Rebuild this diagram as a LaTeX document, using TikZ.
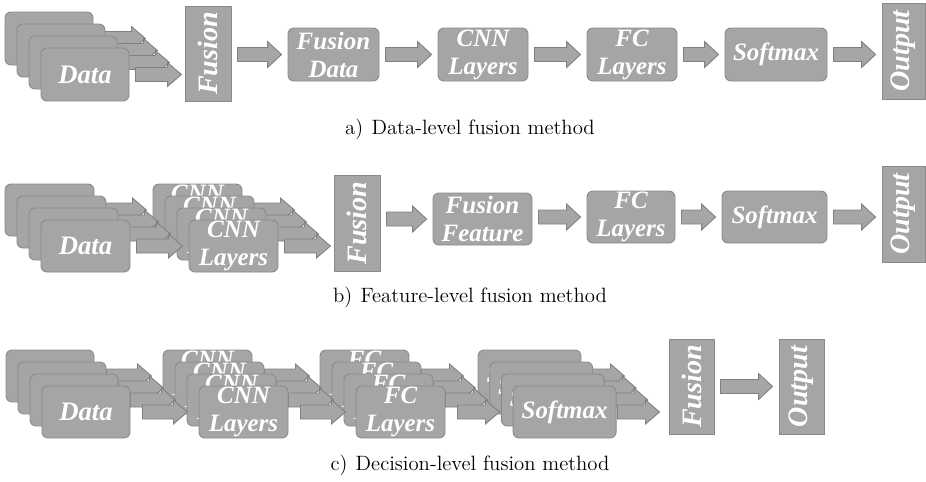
\documentclass[tikz,border=0pt]{standalone}
\usepackage{fontspec}
\newfontfamily\tnr{Liberation Serif}
\usetikzlibrary{calc}

\definecolor{boxfill}{HTML}{A5A5A5}
\definecolor{boxline}{HTML}{8A8A8A}
\definecolor{arrowfill}{HTML}{A6A6A6}
\definecolor{arrowline}{HTML}{808080}

% one grid step of the drawing
\def\pxu{0.569055pt}

\tikzset{
  stagebox/.style={rectangle, rounded corners=3.4pt, fill=boxfill, draw=boxline,
    line width=0.5pt, text=white, align=center, inner sep=0pt,
    font=\tnr\bfseries\itshape\fontsize{14.2}{15.9}\selectfont},
  databox/.style={stagebox, font=\tnr\bfseries\itshape\fontsize{15.2}{17}\selectfont},
  fusebar/.style={rectangle, fill=boxfill, draw=boxline, line width=0.5pt,
    text=white, inner sep=0pt, rotate=90,
    font=\tnr\bfseries\itshape\fontsize{16}{18}\selectfont},
  blockarrow/.style={fill=arrowfill, draw=arrowline, line width=0.5pt, line join=miter},
  caption/.style={font=\fontsize{11.8}{14}\selectfont, inner sep=0pt}
}

% rounded stage box: name, left, top, width, height, text
\newcommand\stage[6]{%
  \node[stagebox, minimum width={#4*\pxu}, minimum height={#5*\pxu}]
    (#1) at ({#2+#4/2},{#3+#5/2}) {#6};}

% input data box: name, left, top, width, height
\newcommand\datastage[5]{%
  \node[databox, minimum width={#4*\pxu}, minimum height={#5*\pxu}]
    (#1) at ({#2+#4/2},{#3+#5/2}) {Data};}

% vertical bar with rotated label: name, left, top, right, bottom, text
% (the label is turned by 90 degrees, so its south side faces right
%  and its north side faces left)
\newcommand\sidebar[6]{%
  \node[fusebar, minimum width={(#5-#3)*\pxu}, minimum height={(#4-#2)*\pxu}]
    (#1) at ({(#2+#4)/2},{(#3+#5)/2}) {#6};}

% block arrow leaving a stacked box: node, gap, total length
\newcommand\stackarrow[3]{%
  \begin{scope}[shift={($(#1.east)+(#2,0)$)}]
    \draw[blockarrow] (0,-7) -- ({#3-14},-7) -- ({#3-14},-12) -- (#3,0)
      -- ({#3-14},12) -- ({#3-14},7) -- (0,7) -- cycle;
  \end{scope}}

% block arrow from the right side of one node to the left side of the next
\newcommand\flowarrow[2]{%
  \draw[blockarrow] let \p1=($(#1)+(6,0)$), \p2=($(#2)+(-6,0)$) in
    (\x1,\y2-7*\pxu) -- (\x2-14*\pxu,\y2-7*\pxu) -- (\x2-14*\pxu,\y2-13*\pxu)
    -- (\x2,\y2) -- (\x2-14*\pxu,\y2+13*\pxu) -- (\x2-14*\pxu,\y2+7*\pxu)
    -- (\x1,\y2+7*\pxu) -- cycle;}

\begin{document}
\begin{tikzpicture}[x=\pxu, y=-\pxu]
\useasboundingbox (0,0) rectangle (926,481);

% ---------- a) data-level fusion ----------
\foreach \k in {0,...,3} {
  \datastage{dataA\k}{5+12*\k}{12+12*\k}{88}{53}
  \stackarrow{dataA\k}{6}{46}
}
\sidebar{fusA}{185}{6}{231}{101}{Fusion}
\stage{fdA}{288}{28}{91}{53}{Fusion\\Data}
\stage{cnnA}{438}{28}{90}{53}{CNN\\Layers}
\stage{fcA}{587}{28}{90}{53}{FC\\Layers}
\stage{smA}{725}{28}{102}{53}{Softmax}
\sidebar{outA}{882}{3}{925}{99}{Output}
\flowarrow{fusA.south}{fdA.west}
\flowarrow{fdA.east}{cnnA.west}
\flowarrow{cnnA.east}{fcA.west}
\flowarrow{fcA.east}{smA.west}
\flowarrow{smA.east}{smA.east -| outA.north}
\node[caption] (capA) at (470,129) {a)\hspace{0.4em}Data-level fusion method};

% ---------- b) feature-level fusion ----------
\foreach \k in {0,...,3} {
  \datastage{dataB\k}{5+12*\k}{184+12*\k}{89}{52}
  \stackarrow{dataB\k}{6}{46}
  \stage{cnnB\k}{153+12*\k}{184+12*\k}{89}{52}{CNN\\Layers}
  \stackarrow{cnnB\k}{6}{46}
}
\sidebar{fusB}{334}{175}{380}{271}{Fusion}
\stage{ffB}{433}{193}{99}{52}{Fusion\\Feature}
\stage{fcB}{587}{191}{88}{52}{FC\\Layers}
\stage{smB}{722}{191}{105}{52}{Softmax}
\sidebar{outB}{882}{166}{925}{262}{Output}
\flowarrow{fusB.south}{ffB.west}
\flowarrow{ffB.east}{fcB.west}
\flowarrow{fcB.east}{smB.west}
\flowarrow{smB.east}{smB.east -| outB.north}
\node[caption] (capB) at (470,297) {b)\hspace{0.4em}Feature-level fusion method};

% ---------- c) decision-level fusion ----------
\foreach \k in {0,...,3} {
  \datastage{dataC\k}{6+12*\k}{350+12*\k}{88}{52}
  \stackarrow{dataC\k}{12}{45}
  \stage{cnnC\k}{163+12*\k}{350+12*\k}{89}{52}{CNN\\Layers}
  \stackarrow{cnnC\k}{12}{45}
  \stage{fcC\k}{320+12*\k}{350+12*\k}{89}{52}{FC\\Layers}
  \stackarrow{fcC\k}{12}{42}
  \stage{smC\k}{478+11.7*\k}{350+12*\k}{103}{52}{Softmax}
  \stackarrow{smC\k}{1}{42}
}
\sidebar{fusC}{669}{339}{714}{434}{Fusion}
\sidebar{outC}{779}{339}{824}{434}{Output}
\flowarrow{fusC.south}{outC.north}
\node[caption] (capC) at (470,465) {c)\hspace{0.4em}Decision-level fusion method};
\end{tikzpicture}
\end{document}
